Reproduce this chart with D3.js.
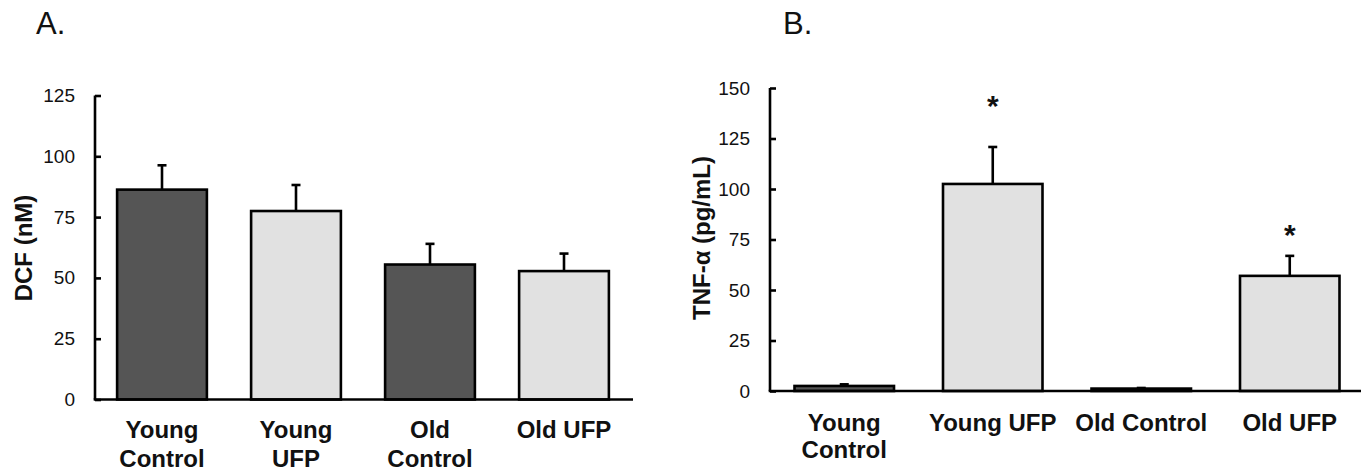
<!DOCTYPE html>
<html><head><meta charset="utf-8">
<script src="https://cdn.jsdelivr.net/npm/d3@7"></script>
<style>
html,body{margin:0;padding:0;background:#fff;}
svg{display:block;}
</style></head>
<body>
<script>
// ---- Data ----
const categoriesA = [["Young","Control"],["Young","UFP"],["Old","Control"],["Old UFP"]];
const dcfMean = [86.3, 77.5, 55.5, 52.8];
const dcfErr  = [10.0, 10.7, 8.5, 7.2];
const ticksA  = [0, 25, 50, 75, 100, 125];

const categoriesB = [["Young","Control"],["Young UFP"],["Old Control"],["Old UFP"]];
const tnfMean = [2.5, 102.5, 1.2, 57.0];
const tnfErr  = [0.8, 18.3, 0.3, 9.9];
const tnfSig  = [false, true, false, true];
const tnfSigAt = [null, 144.8, null, 80.7];
const ticksB  = [0, 25, 50, 75, 100, 125, 150];

const groupType = ["control","ufp","control","ufp"];
const fills = {control:"#555555", ufp:"#e1e1e1"};

const W = 1361, H = 476;
const FONT = "'Liberation Sans', Arial, sans-serif";
const svg = d3.select("body").append("svg").attr("width", W).attr("height", H);

function panel(opts){
  const g = svg.append("g");
  const x = d3.scaleBand().domain(d3.range(opts.means.length))
      .range(opts.xr).paddingInner(0.33).paddingOuter(0.165);
  const y = d3.scaleLinear().domain([0, d3.max(opts.ticks)]).range(opts.yr);

  // bars
  g.selectAll("rect.bar").data(opts.means).join("rect")
    .attr("x", (d,i)=>x(i)).attr("width", x.bandwidth())
    .attr("y", d=>y(d)).attr("height", d=>y(0)-y(d))
    .attr("fill", (d,i)=>fills[groupType[i]])
    .attr("stroke", "#000").attr("stroke-width", 2.6);

  // error bars (upper only)
  const cap = 9;
  opts.means.forEach((m,i)=>{
    const cx = x(i) + x.bandwidth()/2;
    const top = y(m + opts.errs[i]);
    if (y(m) - top > 1.5) {
      g.append("line").attr("x1",cx).attr("x2",cx).attr("y1",y(m)).attr("y2",top)
        .attr("stroke","#000").attr("stroke-width",2.6);
    }
    g.append("line").attr("x1",cx-cap/2).attr("x2",cx+cap/2).attr("y1",top).attr("y2",top)
      .attr("stroke","#000").attr("stroke-width",2.6);
  });

  // y axis
  const ax = g.append("g").attr("transform",`translate(${opts.xr[0]},0)`)
    .call(d3.axisLeft(y).tickValues(opts.ticks).tickSizeInner(-6).tickSizeOuter(0).tickPadding(20));
  ax.select(".domain").attr("stroke","#000").attr("stroke-width",2.6)
    .attr("d", `M0,${y(0)}V${y(d3.max(opts.ticks))}`);
  ax.selectAll(".tick line").attr("stroke","#000").attr("stroke-width",2.6);
  ax.selectAll(".tick text").attr("font-family",FONT)
    .attr("font-size",19).attr("fill","#111");

  // x axis line
  g.append("line").attr("x1",opts.xr[0]-1.3).attr("x2",opts.xEnd).attr("y1",y(0)).attr("y2",y(0))
    .attr("stroke","#000").attr("stroke-width",2.6);

  // category labels
  opts.cats.forEach((lines,i)=>{
    const t = g.append("text").attr("text-anchor","middle")
      .attr("font-family",FONT).attr("font-weight","bold")
      .attr("font-size",24).attr("fill","#111");
    lines.forEach((s,k)=>{
      t.append("tspan").attr("x", x(i)+x.bandwidth()/2).attr("y", opts.labY + k*opts.labDy).text(s);
    });
  });

  // y title
  g.append("text").attr("transform",`translate(${opts.titleX},${opts.titleY}) rotate(-90)`)
    .attr("text-anchor","middle").attr("font-family",FONT)
    .attr("font-weight","bold").attr("font-size",24).attr("fill","#111").text(opts.title);

  // significance
  if (opts.sig) opts.sig.forEach((s,i)=>{
    if (!s) return;
    g.append("text").attr("x", x(i)+x.bandwidth()/2).attr("y", y(opts.sigAt[i]) + 17)
      .attr("text-anchor","middle").attr("font-family",FONT).attr("font-weight","bold")
      .attr("font-size",30).attr("fill","#111").text("*");
  });

  // panel letter
  svg.append("text").attr("x",opts.letterX).attr("y",34)
    .attr("font-family",FONT).attr("font-size",31)
    .attr("fill","#111").text(opts.letter);
}

panel({means:dcfMean, errs:dcfErr, ticks:ticksA, cats:categoriesA,
  xr:[95,631], xEnd:633, yr:[399.5,95.5], labY:438, labDy:29,
  title:"DCF (nM)", titleX:32, titleY:248, letter:"A.", letterX:36});

panel({means:tnfMean, errs:tnfErr, ticks:ticksB, cats:categoriesB,
  xr:[770,1364], xEnd:1361, yr:[391,88], labY:431, labDy:27,
  title:"TNF-α (pg/mL)", titleX:710, titleY:238, sig:tnfSig, sigAt:tnfSigAt,
  letter:"B.", letterX:783});
</script>
</body></html>
